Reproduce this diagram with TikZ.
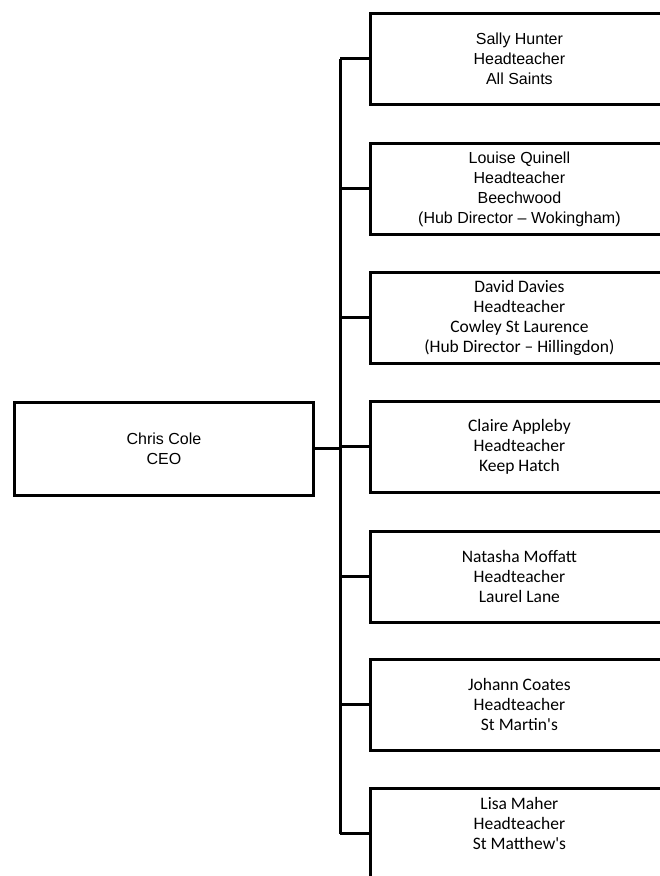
\documentclass[tikz,border=0pt]{standalone}
\usepackage{fontspec}
\setmainfont{Carlito}
\newfontfamily\aptosfont[Ligatures=TeX]{Liberation Sans}
\begin{document}
\begin{tikzpicture}[x=1pt,y=-1pt,
  box/.style={draw=black, line width=2.8pt, fill=white, rectangle,
    minimum width=298pt, minimum height=91pt, inner sep=0pt, align=center,
    anchor=north west, font=\fontsize{17.5}{20}\selectfont},
  abox/.style={box, font=\aptosfont\fontsize{16}{20}\selectfont},
  link/.style={draw=black, line width=3pt}
]
\useasboundingbox (0,0) rectangle (660,876);
\fill[white] (0,0) rectangle (660,876);
\clip (0,0) rectangle (660,876);

\node[abox, minimum width=299pt, minimum height=93pt] (ceo) at (13,401) {Chris Cole\\CEO};

\node[abox] (b1) at (369,12) {Sally Hunter\\Headteacher\\All Saints};
\node[abox] (b2) at (369,142) {Louise Quinell\\Headteacher\\Beechwood\\(Hub Director – Wokingham)};
\node[box] (b3) at (369,271) {David Davies\\Headteacher\\Cowley St Laurence\\(Hub Director – Hillingdon)};
\node[box] (b4) at (369,400) {Claire Appleby\\Headteacher\\Keep Hatch};
\node[box] (b5) at (369,530) {Natasha Moffatt\\Headteacher\\Laurel Lane};
\node[box] (b6) at (369,658) {Johann Coates\\Headteacher\\St Martin\textquotesingle s};
\node[box] (b7) at (369,787) {Lisa Maher\\Headteacher\\St Matthew\textquotesingle s\\~};

\coordinate (t1) at (340,0 |- b1.west);
\coordinate (t7) at (340,0 |- b7.west);
\coordinate (tc) at (340,0 |- ceo.east);

\path[link] (t1) -- (t7);
\path[link] (ceo.east) -- (tc);
\foreach \b in {b1,b2,b3,b4,b5,b6,b7}{
  \path[link] (340,0 |- \b.west) -- (\b.west);
}
\end{tikzpicture}
\end{document}
